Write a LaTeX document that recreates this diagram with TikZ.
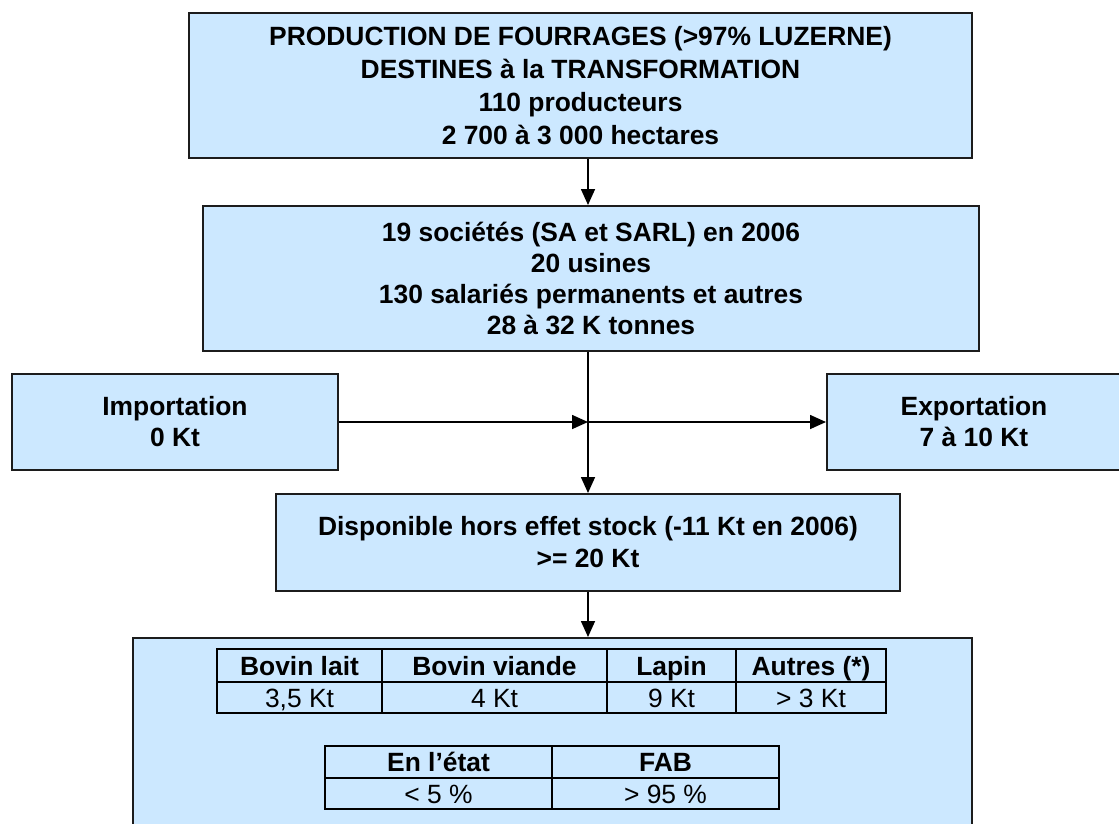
\documentclass[tikz,border=0pt]{standalone}
\usepackage{fontspec}
\setmainfont{Liberation Sans}
\usetikzlibrary{arrows.meta}
\definecolor{boxfill}{RGB}{204,232,255}
\definecolor{boxline}{RGB}{28,28,28}
\begin{document}
\begin{tikzpicture}[x=1pt, y=-1pt,
  box/.style={draw=boxline, line width=2pt, fill=boxfill, inner sep=0pt, align=center},
  flow/.style={line width=1.6pt, -{Triangle[length=16pt,width=14pt]}},
  cell/.style={draw=black, line width=2.4pt, inner sep=0pt, anchor=center,
               text height=21pt, text depth=2pt},
  head/.style={cell, font=\bfseries\fontsize{26.4}{30}\selectfont},
  val/.style={cell, font=\fontsize{26.4}{30}\selectfont}]
\useasboundingbox (0,0) rectangle (1119,823);
\clip (0,0) rectangle (1119,823);

% main flow boxes
\node[box, minimum width=783pt, minimum height=145pt,
      font=\bfseries\fontsize{26.4}{33}\selectfont] (prod) at (580.5,85.5)
  {PRODUCTION DE FOURRAGES (>97\% LUZERNE)\\DESTINES à la TRANSFORMATION\\110 producteurs\\2 700 à 3 000 hectares};
\node[box, minimum width=776pt, minimum height=145pt,
      font=\bfseries\fontsize{26.4}{31}\selectfont] (soc) at (591,278.5)
  {19 sociétés (SA et SARL) en 2006\\20 usines\\130 salariés permanents et autres\\28 à 32 K tonnes};
\node[box, minimum width=326pt, minimum height=96pt,
      font=\bfseries\fontsize{26.4}{31}\selectfont] (imp) at (175,422)
  {Importation\\0 Kt};
\node[box, minimum width=294pt, minimum height=96pt,
      font=\bfseries\fontsize{26.4}{31}\selectfont] (exp) at (974,422)
  {Exportation\\7 à 10 Kt};
\node[box, minimum width=624pt, minimum height=97pt,
      font=\bfseries\fontsize{26.4}{32}\selectfont] (disp) at (588,542.5)
  {Disponible hors effet stock (-11 Kt en 2006)\\>= 20 Kt};
\node[box, minimum width=839pt, minimum height=192pt] (uses) at (552.5,734) {};

% connectors
\coordinate (hub) at (disp.north |- imp.east);
\draw[flow] (prod.south -| disp.north) -- (soc.north -| disp.north);
\draw[flow] (soc.south -| disp.north) -- (disp.north);
\draw[flow] (imp.east) -- (hub);
\draw[flow] (hub) -- (exp.west);
\draw[flow] (disp.south) -- (disp.south |- uses.north);

% table of uses by species
\node[head, minimum width=165pt, minimum height=33pt] (h1) at (299.5,665.5) {Bovin lait};
\node[head, minimum width=225pt, minimum height=33pt] (h2) at (494.5,665.5) {Bovin viande};
\node[head, minimum width=129pt, minimum height=33pt] (h3) at (671.5,665.5) {Lapin};
\node[head, minimum width=150pt, minimum height=33pt] (h4) at (811,665.5) {Autres (*)};
\node[val, minimum width=165pt, minimum height=31pt] (v1) at (299.5,697.5) {3,5 Kt};
\node[val, minimum width=225pt, minimum height=31pt] (v2) at (494.5,697.5) {4 Kt};
\node[val, minimum width=129pt, minimum height=31pt] (v3) at (671.5,697.5) {9 Kt};
\node[val, minimum width=150pt, minimum height=31pt] (v4) at (811,697.5) {> 3 Kt};

% table of use forms
\node[head, minimum width=227pt, minimum height=32pt] (f1) at (438.5,762) {En l’état};
\node[head, minimum width=227pt, minimum height=32pt] (f2) at (665.5,762) {FAB};
\node[val, minimum width=227pt, minimum height=31pt] (p1) at (438.5,793.5) {< 5 \%};
\node[val, minimum width=227pt, minimum height=31pt] (p2) at (665.5,793.5) {> 95 \%};
\end{tikzpicture}
\end{document}
